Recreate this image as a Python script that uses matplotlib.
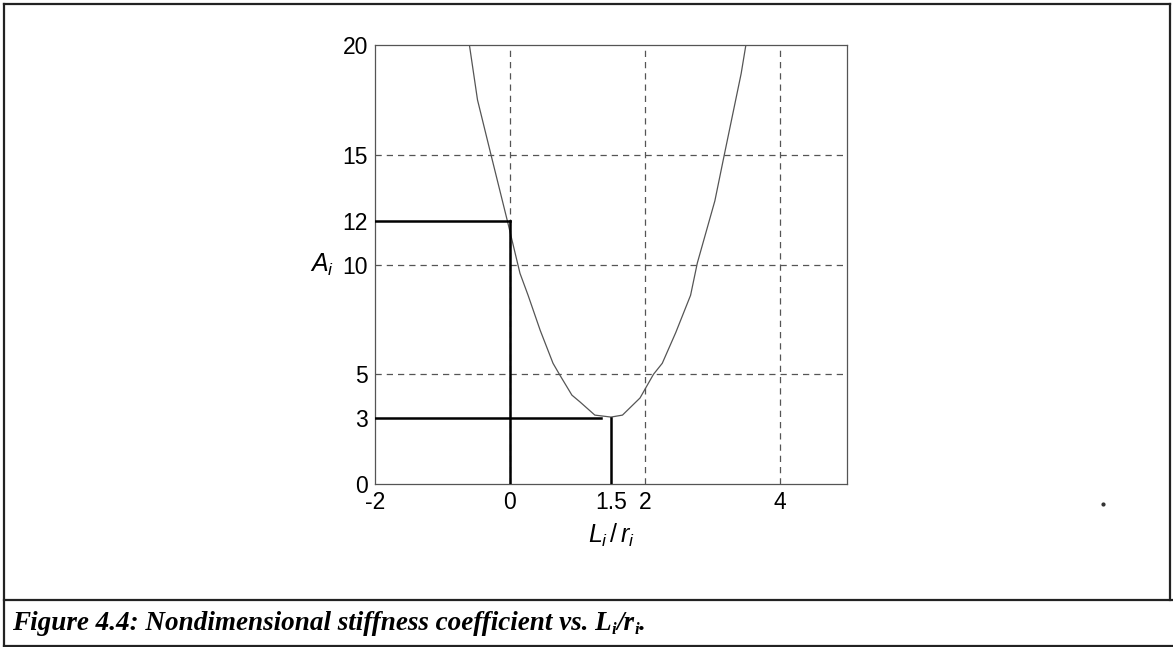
import matplotlib.pyplot as plt
from matplotlib.lines import Line2D

plt.rcParams['mathtext.fontset'] = 'custom'
plt.rcParams['mathtext.it'] = 'Liberation Sans:italic'
plt.rcParams['mathtext.rm'] = 'Liberation Sans'

# curve A_i vs L_i/r_i
lr = [-0.60, -0.48, -0.28, -0.03, 0.15, 0.27, 0.45, 0.64, 0.74, 0.92, 1.04, 1.26,
      1.50, 1.67, 1.93, 2.13, 2.26, 2.46, 2.68, 2.78, 3.04, 3.18, 3.43, 3.50]
A = [20.0, 17.5, 15.0, 11.9, 9.6, 8.6, 7.0, 5.5, 4.97, 4.05, 3.74, 3.14,
     3.05, 3.14, 3.92, 5.0, 5.5, 6.9, 8.6, 10.07, 12.9, 15.0, 18.7, 20.0]

# marked design points
mark_x = [0, 1.5]
mark_y = [12, 3]
mark_hend = [0, 1.35]

xticks = [-2, 0, 1.5, 2, 4]
xticklabels = ['-2', '0', '1.5', '2', '4']
yticks = [0, 3, 5, 10, 12, 15, 20]
xgrid = [0, 2, 4]
ygrid = [5, 10, 15]

fig = plt.figure(figsize=(11.73, 6.47), dpi=100)
ax = fig.add_axes([0.3197, 0.2519, 0.4024, 0.6785])

for g in xgrid:
    ax.axvline(g, color='#555555', lw=0.9, ls=(0, (5, 4)), zorder=1)
for g in ygrid:
    ax.axhline(g, color='#555555', lw=0.9, ls=(0, (5, 4)), zorder=1)

ax.plot(lr, A, color='#555555', lw=0.9, zorder=2)

for mx, my, he in zip(mark_x, mark_y, mark_hend):
    ax.plot([-2, he], [my, my], color='black', lw=1.8, zorder=3)
    ax.plot([mx, mx], [0, my], color='black', lw=1.8, zorder=3)

ax.set_xlim(-2, 5)
ax.set_ylim(0, 20)
ax.set_xticks(xticks)
ax.set_xticklabels(xticklabels)
ax.set_yticks(yticks)
ax.tick_params(length=0, labelsize=16.5, pad=5)
for lab in ax.get_xticklabels() + ax.get_yticklabels():
    lab.set_family('Liberation Sans')
for s in ax.spines.values():
    s.set_color('#555555')
    s.set_linewidth(0.9)

ax.set_xlabel('$L_i\\,/\\,r_i$', fontsize=18, labelpad=6)
ax.set_ylabel('$A_i$', fontsize=18, rotation=0)
ax.yaxis.set_label_coords(-0.112, 0.5)
ax.yaxis.label.set_va('center')

# page frame and caption
W, H = 1173, 647
def px(x, y):
    return x / W, 1 - y / H
for (x0, y0, x1, y1) in [(4, 4, 1170, 4), (4, 4, 4, 646), (1170, 4, 1170, 600),
                         (4, 600, 1172, 600), (4, 646, 1172, 646)]:
    a, b = px(x0, y0)
    c, d = px(x1, y1)
    fig.add_artist(Line2D([a, c], [b, d], color='#222222', lw=1.6))

fig.add_artist(Line2D([px(1103, 504)[0]], [px(1103, 504)[1]], marker='o', ms=2,
                      color='#333333', lw=0))

# caption built piece by piece so the subscripts stay in the serif face
cap = dict(family='Liberation Serif', weight='bold', style='italic', color='black',
           ha='left', va='baseline')
pieces = [('Figure 4.4: Nondimensional stiffness coefficient vs. L', False),
          ('i', True), ('/r', False), ('i', True), ('.', False)]
renderer = fig.canvas.get_renderer()
x = 12
base = 630
for s, sub in pieces:
    t = fig.text(x / W, 1 - (base + (4 if sub else 0)) / H, s,
                 fontsize=12 if sub else 19.5, **cap)
    x += t.get_window_extent(renderer).width

fig.savefig('out.png', dpi=100)
